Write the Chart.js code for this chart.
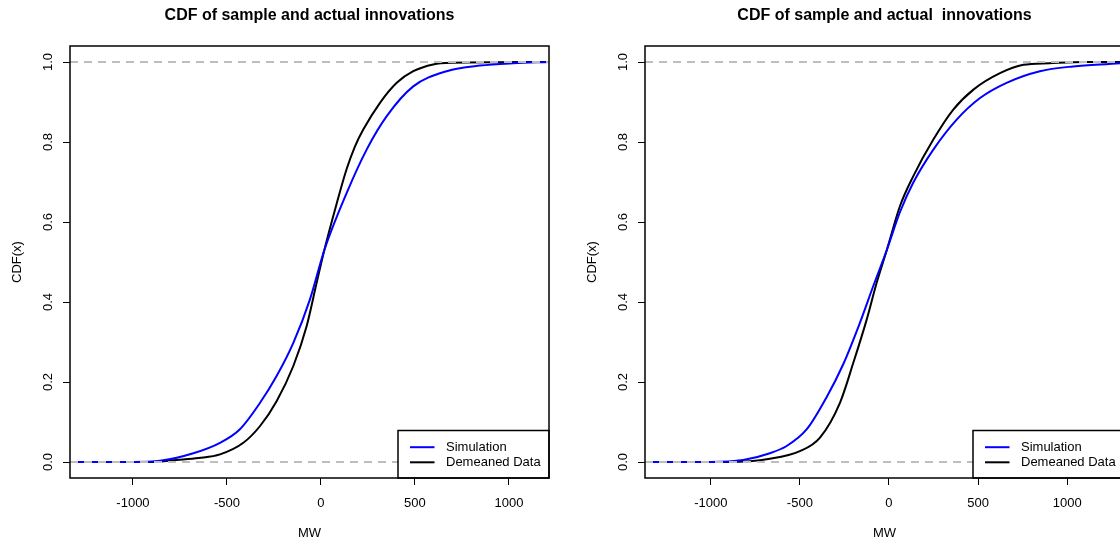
<!DOCTYPE html>
<html>
<head>
<meta charset="utf-8">
<script src="https://cdn.jsdelivr.net/npm/chart.js@4.4.1/dist/chart.umd.min.js"></script>
<style>
  html, body { margin: 0; padding: 0; background: #fff; overflow: hidden; }
  #wrap { position: relative; width: 1120px; height: 545px; overflow: hidden; }
  canvas { position: absolute; top: 0; }
  #left { left: 0; }
  #right { left: 575px; }
</style>
</head>
<body>
<div id="wrap">
  <canvas id="left" width="575" height="545"></canvas>
  <canvas id="right" width="575" height="545"></canvas>
</div>
<script>
// Axis ticks, labels and limits
const xTicks = [-1000, -500, 0, 500, 1000];
const yTicks = [0, 0.2, 0.4, 0.6, 0.8, 1.0];
const seriesNames = ['Simulation', 'Demeaned Data'];
const panelTitles = ['CDF of sample and actual innovations', 'CDF of sample and actual  innovations'];
const xLimsLeft = [-1335, 1213];
const xLimsRight = [-1369, 1319];
const yLims = [-0.04, 1.04];
const refLevels = [0, 1];

// Left panel: empirical CDFs (MW, cumulative probability)
const leftSimX   = [-1335, -1000, -856, -679, -537, -431, -324, -236, -147, -59, 18, 137, 243, 349, 491, 669, 846, 1023, 1213];
const leftSimCdf = [0, 0, 0.003, 0.022, 0.048, 0.082, 0.148, 0.215, 0.298, 0.406, 0.53, 0.673, 0.781, 0.864, 0.939, 0.977, 0.991, 0.997, 1.0];
const leftDataX   = [-1335, -900, -768, -650, -537, -413, -324, -236, -147, -76, -23, 18, 83, 137, 180, 225, 314, 403, 491, 597, 700, 1213];
const leftDataCdf = [0, 0, 0.005, 0.01, 0.019, 0.048, 0.09, 0.152, 0.24, 0.34, 0.448, 0.53, 0.645, 0.733, 0.788, 0.831, 0.898, 0.948, 0.977, 0.994, 0.998, 1.0];

// Right panel: empirical CDFs (MW, cumulative probability)
const rightSimX   = [-1369, -1000, -818, -668, -574, -461, -350, -256, -163, -88, -12, 62, 136, 249, 380, 511, 660, 847, 1034, 1296, 1319];
const rightSimCdf = [0, 0, 0.005, 0.022, 0.04, 0.082, 0.162, 0.245, 0.348, 0.44, 0.53, 0.625, 0.698, 0.781, 0.856, 0.91, 0.948, 0.977, 0.989, 0.997, 0.998];
const rightDataX   = [-1369, -900, -668, -500, -387, -275, -200, -125, -69, -12, 62, 136, 249, 361, 474, 623, 754, 900, 1100, 1319];
const rightDataCdf = [0, 0, 0.008, 0.027, 0.061, 0.148, 0.248, 0.356, 0.448, 0.53, 0.64, 0.714, 0.806, 0.881, 0.931, 0.972, 0.993, 0.997, 1.0, 1.0];

const FONT = "'Liberation Sans', Arial, Helvetica, sans-serif";
Chart.defaults.font.family = FONT;
Chart.defaults.color = '#000';

const pts = (xs, ys) => xs.map((x, i) => ({ x: x, y: ys[i] }));

// Plot frame plus a boxed key in the lower-right corner
const frameAndKey = {
  id: 'frameAndKey',
  afterDatasetsDraw(chart) {
    const { ctx, chartArea: a } = chart;
    ctx.save();
    const w = 151, h = 47.5;
    const x0 = a.right - w, y0 = a.bottom - h;
    ctx.fillStyle = '#fff';
    ctx.fillRect(x0, y0, w, h);
    ctx.strokeStyle = '#000';
    ctx.lineWidth = 1.5;
    ctx.strokeRect(x0, y0, w, h);
    const keyed = chart.data.datasets.filter(d => d.inKey);
    keyed.forEach((d, i) => {
      const y = y0 + 16.7 + i * 15.1;
      ctx.strokeStyle = d.borderColor;
      ctx.lineWidth = 2;
      ctx.beginPath();
      ctx.moveTo(x0 + 12, y);
      ctx.lineTo(x0 + 36.5, y);
      ctx.stroke();
      ctx.fillStyle = '#000';
      ctx.font = '13px ' + FONT;
      ctx.textBaseline = 'middle';
      ctx.textAlign = 'left';
      ctx.fillText(d.label, x0 + 48, y);
    });
    ctx.strokeStyle = '#000';
    ctx.lineWidth = 1.5;
    ctx.strokeRect(a.left, a.top, a.right - a.left, a.bottom - a.top);
    ctx.restore();
  }
};

function makePanel(id, title, xLims, simX, simY, dataX, dataY) {
  const refSets = refLevels.map(level => ({
    label: 'ref' + level,
    data: [{ x: xLims[0], y: level }, { x: xLims[1], y: level }],
    borderColor: '#bebebe',
    borderWidth: 2,
    borderDash: [8, 6],
    pointRadius: 0,
    order: 0
  }));
  const curve = (label, color, xs, ys, order) => ({
    label: label,
    inKey: true,
    data: pts(xs, ys),
    borderColor: color,
    borderWidth: 2,
    pointRadius: 0,
    cubicInterpolationMode: 'monotone',
    order: order
  });
  return new Chart(document.getElementById(id), {
    type: 'line',
    data: {
      datasets: [
        ...refSets,
        curve(seriesNames[0], '#0000ff', simX, simY, 1),
        curve(seriesNames[1], '#000000', dataX, dataY, 2)
      ]
    },
    options: {
      responsive: false,
      animation: false,
      devicePixelRatio: 1,
      layout: { padding: { left: 0, right: 26, top: 0, bottom: 0 } },
      plugins: {
        legend: { display: false },
        tooltip: { enabled: false },
        title: {
          display: true,
          text: title,
          fullSize: false,
          color: '#000',
          font: { size: 16, weight: 'bold' },
          padding: { top: 5.9, bottom: 20.9 }
        }
      },
      scales: {
        x: {
          type: 'linear',
          min: xLims[0],
          max: xLims[1],
          afterBuildTicks: s => { s.ticks = xTicks.map(v => ({ value: v })); },
          afterFit: s => { s.height = 67; },
          border: { display: false },
          grid: { drawOnChartArea: false, drawTicks: true, tickLength: 7, color: '#000', lineWidth: 1 },
          ticks: { callback: v => String(v), font: { size: 13 }, padding: 10.6, maxRotation: 0, autoSkip: false, color: '#000' },
          title: { display: true, text: 'MW', color: '#000', font: { size: 13 }, padding: { top: 0, bottom: 4.2 } }
        },
        y: {
          type: 'linear',
          min: yLims[0],
          max: yLims[1],
          afterBuildTicks: s => { s.ticks = yTicks.map(v => ({ value: v })); },
          afterFit: s => { s.width = 70; },
          border: { display: false },
          grid: { drawOnChartArea: false, drawTicks: true, tickLength: 7, color: '#000', lineWidth: 1 },
          ticks: { callback: v => Number(v).toFixed(1), font: { size: 13 }, padding: 5.5, minRotation: 90, maxRotation: 90, crossAlign: 'center', color: '#000' },
          title: { display: true, text: 'CDF(x)', color: '#000', font: { size: 13 }, padding: { top: 9.2, bottom: 0 } }
        }
      }
    },
    plugins: [frameAndKey]
  });
}

makePanel('left', panelTitles[0], xLimsLeft, leftSimX, leftSimCdf, leftDataX, leftDataCdf);
makePanel('right', panelTitles[1], xLimsRight, rightSimX, rightSimCdf, rightDataX, rightDataCdf);
</script>
</body>
</html>
